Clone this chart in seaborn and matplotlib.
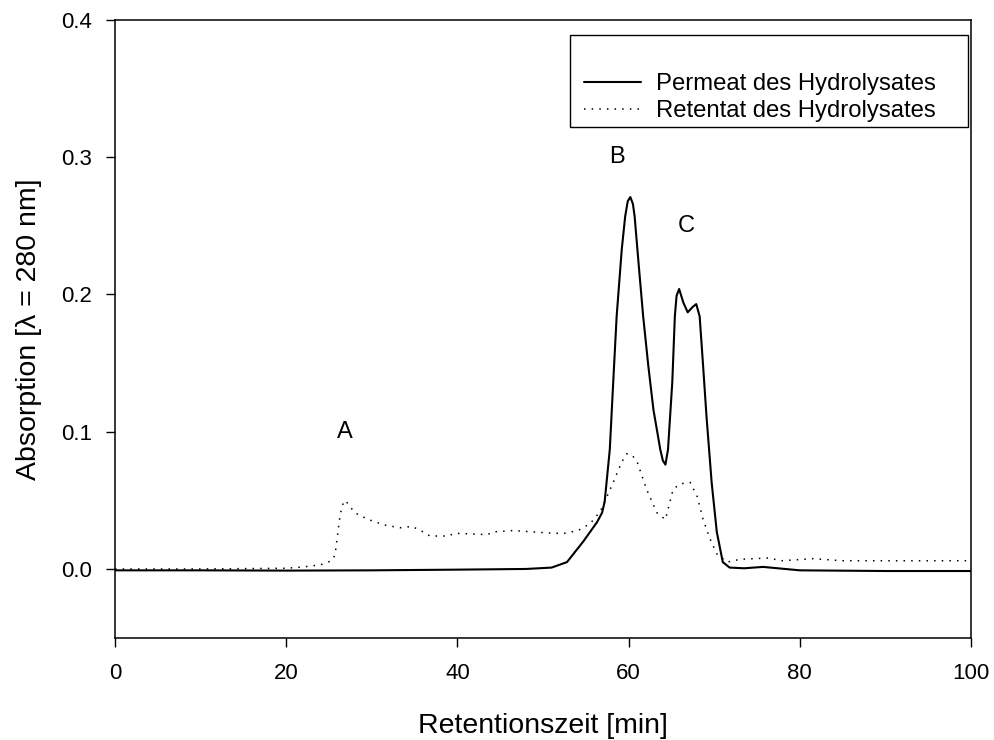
import pandas as pd
import seaborn as sns
import matplotlib.pyplot as plt
from matplotlib.patches import Rectangle

# Retentionszeit [min] / Absorption values
perm_x = [0, 10, 20, 30, 40, 48, 51, 52.8, 54.7, 56.3, 56.9, 57.2, 57.8, 58.2,
          58.6, 59.2, 59.6, 59.9, 60.2, 60.5, 60.7, 61.2, 61.7, 62.3, 62.9, 63.7,
          64.0, 64.3, 64.6, 65.1, 65.4, 65.6, 65.9, 66.4, 66.9, 67.5, 67.9, 68.3,
          68.7, 69.1, 69.7, 70.3, 71.0, 71.8, 73.5, 75.7, 80, 90, 100]
perm_y = [-0.001, -0.001, -0.0012, -0.001, -0.0005, 0.0, 0.001, 0.005, 0.020,
          0.034, 0.041, 0.049, 0.087, 0.136, 0.184, 0.233, 0.257, 0.268, 0.271,
          0.266, 0.257, 0.22, 0.184, 0.148, 0.116, 0.087, 0.079, 0.076, 0.087,
          0.136, 0.184, 0.199, 0.204, 0.194, 0.187, 0.191, 0.193, 0.184, 0.148,
          0.111, 0.063, 0.027, 0.005, 0.001, 0.0005, 0.0015, -0.001, -0.0015,
          -0.0015]

ret_x = [0, 10, 20, 22, 24, 25.3, 25.7, 25.9, 26.2, 26.5, 26.9, 28, 29.6, 31.5,
         33.3, 34.7, 36.0, 36.8, 38.9, 39.7, 43.5, 44.2, 46.5, 48.8, 51.2, 52.5,
         54.1, 55.5, 56.7, 58.2, 59.2, 59.8, 60.4, 61.0, 62.1, 63.3, 64.3, 65.2,
         66.0, 67.2, 68.0, 68.7, 69.5, 70.3, 71.5, 73, 76.3, 77.9, 81.5, 85, 90,
         100]
ret_y = [0.0, 0.0, 0.0005, 0.0015, 0.003, 0.006, 0.01, 0.02, 0.035, 0.046, 0.05,
         0.041, 0.036, 0.032, 0.030, 0.031, 0.027, 0.024, 0.024, 0.026, 0.025,
         0.027, 0.028, 0.027, 0.026, 0.026, 0.028, 0.033, 0.042, 0.063, 0.078,
         0.084, 0.083, 0.078, 0.058, 0.041, 0.036, 0.058, 0.062, 0.063, 0.053,
         0.036, 0.022, 0.011, 0.005, 0.007, 0.008, 0.006, 0.0075, 0.006, 0.006,
         0.006]

peak_labels = ['A', 'B', 'C']
peak_pos = [(26.9, 0.100), (58.6, 0.300), (66.7, 0.250)]

sns.set_style('ticks')
plt.rcParams['font.family'] = ['Liberation Sans', 'DejaVu Sans']
for k in ['text.color', 'axes.labelcolor', 'xtick.color', 'ytick.color']:
    plt.rcParams[k] = 'black'

fig = plt.figure(figsize=(9.95, 7.4), dpi=100)
ax = fig.add_axes([0.1156, 0.1384, 0.8603, 0.8346])

perm = pd.DataFrame({'t': perm_x, 'a': perm_y})
ret = pd.DataFrame({'t': ret_x, 'a': ret_y})
sns.lineplot(data=perm, x='t', y='a', ax=ax, color='black', linewidth=1.5,
             sort=False, label='Permeat des Hydrolysates')
sns.lineplot(data=ret, x='t', y='a', ax=ax, color='black', linewidth=1.1,
             linestyle=(0, (1, 4)), sort=False, label='Retentat des Hydrolysates')

for lab, (x, y) in zip(peak_labels, peak_pos):
    ax.text(x, y, lab, ha='center', va='center', fontsize=17)

ax.set_xlim(0, 100)
ax.set_ylim(-0.05, 0.4)
ax.set_xticks([0, 20, 40, 60, 80, 100])
ax.set_yticks([0.0, 0.1, 0.2, 0.3, 0.4])
ax.set_yticklabels(['0.0', '0.1', '0.2', '0.3', '0.4'])
ax.tick_params(direction='out', length=6.5, width=1.0, labelsize=16, pad=10)
ax.tick_params(axis='x', pad=12)
for s in ax.spines.values():
    s.set_visible(True)
    s.set_linewidth(1.1)
    s.set_color('black')

ax.set_xlabel('Retentionszeit [min]', fontsize=20.5, labelpad=21)
ax.set_ylabel('Absorption [λ = 280 nm]', fontsize=20.5, labelpad=14)

# legend box drawn separately (the original has extra room on top and right)
ax.add_patch(Rectangle((0.5315, 0.8268), 0.465, 0.1489, transform=ax.transAxes,
                       fill=False, edgecolor='black', linewidth=1.0, zorder=5))
leg = ax.legend(loc='upper left', bbox_to_anchor=(0.5479, 0.9134), borderaxespad=0,
                borderpad=0, fontsize=17.2, frameon=False,
                handlelength=2.37, handletextpad=0.64, labelspacing=0.2)

fig.savefig('out.png', dpi=100)
